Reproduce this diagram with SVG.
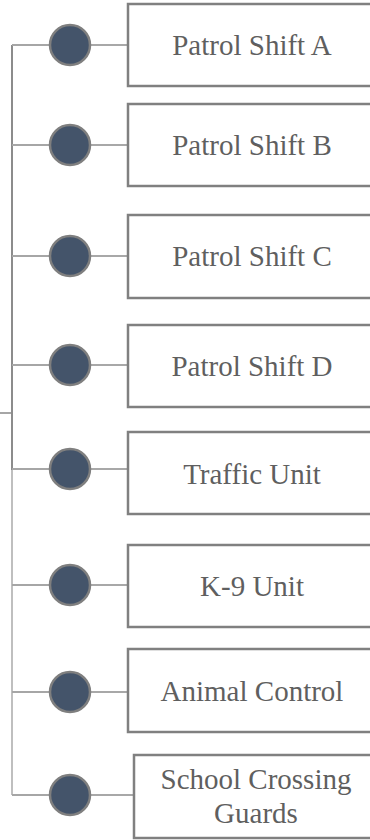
<svg xmlns="http://www.w3.org/2000/svg" width="370" height="840" viewBox="0 0 370 840">
<style>
.box{fill:#ffffff;stroke:#808080;stroke-width:2.5}
.dot{fill:#44546a;stroke:#7f7f7f;stroke-width:2.5}
.lbl{font-family:'Liberation Serif','DejaVu Serif',Times,serif;font-size:29px;fill:#5f5f5f;text-anchor:middle}
.trunk{stroke:#8c8c8c;stroke-width:2;fill:none}
.trunk2{stroke:#bfbfbf;stroke-width:2;fill:none}
.stemL{stroke:#a6a6a6;stroke-width:2;fill:none}
.stemR{stroke:#8c8c8c;stroke-width:1.5;fill:none}
</style>
<rect width="370" height="840" fill="#ffffff"/>
<g id="connectors">
<path class="stemL" d="M0 413H12"/>
<path class="trunk" d="M12 45V470"/>
<path class="trunk2" d="M12 470V795"/>
<path class="stemL" d="M12 45H50M12 145H50M12 256H50M12 365H50M12 469H50M12 585H50M12 692H50M12 795H50"/>
<path class="stemR" d="M90 45H128M90 145H128M90 256H128M90 365H128M90 469H128M90 585H128M90 692H128M90 795H134"/>
</g>
<g font-family="Liberation Serif, serif">
<g id="shift-a"><circle class="dot" cx="70" cy="45" r="20"/><rect class="box" x="128" y="4" width="250" height="82"/><text class="lbl" x="252" y="55">Patrol Shift A</text></g>
<g id="shift-b"><circle class="dot" cx="70" cy="145" r="20"/><rect class="box" x="128" y="104" width="250" height="82"/><text class="lbl" x="252" y="155">Patrol Shift B</text></g>
<g id="shift-c"><circle class="dot" cx="70" cy="256" r="20"/><rect class="box" x="128" y="215" width="250" height="83"/><text class="lbl" x="252" y="266">Patrol Shift C</text></g>
<g id="shift-d"><circle class="dot" cx="70" cy="365" r="20"/><rect class="box" x="128" y="325" width="250" height="82"/><text class="lbl" x="252" y="376">Patrol Shift D</text></g>
<g id="traffic"><circle class="dot" cx="70" cy="469" r="20"/><rect class="box" x="128" y="432" width="250" height="82"/><text class="lbl" x="252" y="484">Traffic Unit</text></g>
<g id="k9"><circle class="dot" cx="70" cy="585" r="20"/><rect class="box" x="128" y="545" width="250" height="82"/><text class="lbl" x="252" y="596">K-9 Unit</text></g>
<g id="animal"><circle class="dot" cx="70" cy="692" r="20"/><rect class="box" x="128" y="649" width="250" height="83"/><text class="lbl" x="252" y="701">Animal Control</text></g>
<g id="school"><circle class="dot" cx="70" cy="795" r="20"/><rect class="box" x="134" y="755" width="244" height="83"/><text class="lbl" x="256" y="789">School Crossing</text><text class="lbl" x="256" y="823">Guards</text></g>
</g>
</svg>
